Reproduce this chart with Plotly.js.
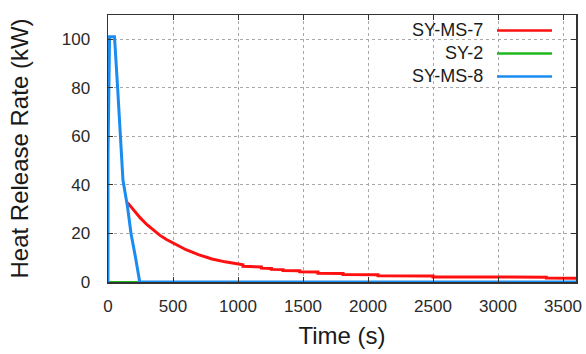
<!DOCTYPE html>
<html>
<head>
<meta charset="utf-8">
<script src="https://cdn.plot.ly/plotly-3.0.1.min.js"></script>
<style>
  html, body { margin: 0; padding: 0; background: #ffffff; }
  #chart { width: 586px; height: 354px; }
</style>
</head>
<body>
<div id="chart"></div>
<script>
// Heat release rate histories of the three specimens
const seriesNames = ["SY-MS-7", "SY-2", "SY-MS-8"];
const seriesColors = ["#ff1010", "#1fb81f", "#1a8cf0"];

// SY-MS-7 (kW vs s)
const timeMS7 = [150, 200, 250, 300, 350, 400, 450, 500, 600, 700, 800, 900,
  1038, 1038, 1180, 1180, 1257, 1257, 1346, 1346, 1475, 1475, 1615, 1615,
  1808, 1808, 2077, 2077, 2500, 2500, 3372, 3372, 3600];
const hrrMS7 = [32.7, 29.3, 26.3, 23.6, 21.2, 19.2, 17.5, 16.1, 13.3, 11.2, 9.5, 8.3,
  7.1, 6.5, 6.2, 5.7, 5.6, 5.2, 5.1, 4.7, 4.6, 4.2, 4.1, 3.6,
  3.5, 3.1, 3.0, 2.6, 2.5, 2.1, 2.0, 1.6, 1.5];

// SY-2 (kW vs s)
const timeSY2 = [0, 3600];
const hrrSY2 = [0, 0];

// SY-MS-8 (kW vs s)
const timeMS8 = [0, 0, 12, 50, 74, 97, 115, 150, 177, 212, 244, 3600];
const hrrMS8 = [0, 52, 101, 101, 80, 60, 42, 31, 20, 10, 0, 0];

// Axis ticks
const xTicks = [0, 500, 1000, 1500, 2000, 2500, 3000, 3500];
const yTicks = [0, 20, 40, 60, 80, 100];

const W = 586, H = 354;
const M = { l: 108, r: 10, t: 15, b: 72 };
const plotW = W - M.l - M.r, plotH = H - M.t - M.b;
const px2x = p => (p - M.l) / plotW;
const px2y = p => 1 - (p - M.t) / plotH;

const traces = [
  { x: timeMS7, y: hrrMS7, name: seriesNames[0], line: { color: seriesColors[0], width: 3 } },
  { x: timeSY2, y: hrrSY2, name: seriesNames[1], line: { color: seriesColors[1], width: 2 } },
  { x: timeMS8, y: hrrMS8, name: seriesNames[2], line: { color: seriesColors[2], width: 3 } }
].map(t => Object.assign({ type: "scatter", mode: "lines", showlegend: false, hoverinfo: "skip" }, t));

// Legend drawn with text on the left and sample line on the right
const legendRows = [29.5, 52.5, 75.5];
const annotations = seriesNames.map((n, i) => ({
  text: n, xref: "paper", yref: "paper",
  x: px2x(485), y: px2y(legendRows[i]),
  xanchor: "right", yanchor: "middle", showarrow: false,
  font: { family: "Liberation Sans, Arial, sans-serif", size: 18, color: "#1a1a1a" }
}));
const shapes = seriesNames.map((n, i) => ({
  type: "line", xref: "paper", yref: "paper",
  x0: px2x(497), x1: px2x(552), y0: px2y(legendRows[i] + 1), y1: px2y(legendRows[i] + 1),
  line: { color: seriesColors[i], width: 2.5 }
}));

const axisCommon = {
  showline: true, linecolor: "#333333", linewidth: 1.5, mirror: "ticks",
  ticks: "inside", ticklen: 5, tickwidth: 1, tickcolor: "#333333",
  showgrid: true, gridcolor: "#a8a8a8", griddash: "dot", gridwidth: 1,
  zeroline: false,
  tickfont: { family: "Liberation Sans, Arial, sans-serif", size: 17, color: "#2a2a2a" }
};

const layout = {
  width: W, height: H, margin: M,
  paper_bgcolor: "#ffffff", plot_bgcolor: "#ffffff",
  xaxis: Object.assign({}, axisCommon, {
    range: [0, 3600], tickvals: xTicks, ticktext: xTicks.map(String),
    ticklabelstandoff: 8,
    title: { text: "Time (s)", standoff: 12,
      font: { family: "Liberation Sans, Arial, sans-serif", size: 24, color: "#1a1a1a" } }
  }),
  yaxis: Object.assign({}, axisCommon, {
    range: [0, 110], tickvals: yTicks, ticktext: yTicks.map(String),
    ticklabelstandoff: 13,
    title: { text: "Heat Release Rate (kW)", standoff: 26,
      font: { family: "Liberation Sans, Arial, sans-serif", size: 24, color: "#1a1a1a" } }
  }),
  annotations: annotations,
  shapes: shapes,
  showlegend: false
};

Plotly.newPlot("chart", traces, layout, { displayModeBar: false, staticPlot: true });
</script>
</body>
</html>
